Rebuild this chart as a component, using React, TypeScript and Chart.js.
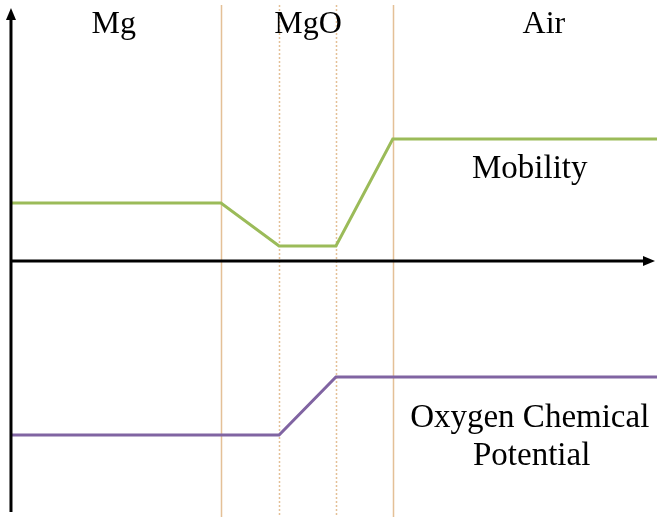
import React, { useEffect, useRef } from "react";
import { Chart, registerables } from "chart.js";

Chart.register(...registerables);

// Position across the sample (0 = vertical axis, 100 = right edge)
const mobilityX = [0, 32.5, 41.5, 50.3, 59.1, 100];
const mobilityY = [58, 58, 15, 15, 122, 122];
const oxygenX = [0, 41.5, 50.3, 100];
const oxygenY = [-174, -174, -116, -116];

const solidBoundaries = [32.5, 59.1];
const dottedBoundaries = [41.5, 50.3];

const regionLabels = ["Mg", "MgO", "Air"];
const regionLabelX = [15.9, 46, 82.5];
const regionLabelY = 228;

const X_MIN = -1.7;
const X_MAX = 100;
const Y_MIN = -256;
const Y_MAX = 261;

const GREEN = "#9BBB59";
const PURPLE = "#8064A2";
const TAN = "rgba(225,185,140,0.9)";
const FONT_TOP = "32px 'Liberation Serif', 'Times New Roman', serif";
const FONT = "33px 'Liberation Serif', 'Times New Roman', serif";

const decorPlugin = {
  id: "decor",
  beforeDatasetsDraw(chart: any) {
    const { ctx, scales } = chart;
    const xs = scales.x;
    const ys = scales.y;
    const top = ys.getPixelForValue(Y_MAX) + 5;
    const bottom = ys.getPixelForValue(Y_MIN);
    ctx.save();
    ctx.strokeStyle = TAN;
    ctx.lineWidth = 1.5;
    solidBoundaries.forEach((v) => {
      const px = Math.round(xs.getPixelForValue(v)) + 0.5;
      ctx.setLineDash([]);
      ctx.beginPath();
      ctx.moveTo(px, top);
      ctx.lineTo(px, bottom);
      ctx.stroke();
    });
    dottedBoundaries.forEach((v) => {
      const px = Math.round(xs.getPixelForValue(v)) + 0.5;
      ctx.setLineDash([2, 2]);
      ctx.beginPath();
      ctx.moveTo(px, top);
      ctx.lineTo(px, bottom);
      ctx.stroke();
    });
    ctx.restore();
  },
  afterDatasetsDraw(chart: any) {
    const { ctx, scales } = chart;
    const xs = scales.x;
    const ys = scales.y;
    const x0 = xs.getPixelForValue(0);
    const y0 = ys.getPixelForValue(0);
    const topY = ys.getPixelForValue(Y_MAX) + 8;
    const bottomY = ys.getPixelForValue(Y_MIN) - 5;
    const rightX = xs.getPixelForValue(X_MAX) - 2;
    ctx.save();
    ctx.strokeStyle = "#000";
    ctx.fillStyle = "#000";
    ctx.lineWidth = 3;
    // vertical axis
    ctx.beginPath();
    ctx.moveTo(x0, bottomY);
    ctx.lineTo(x0, topY + 10);
    ctx.stroke();
    ctx.beginPath();
    ctx.moveTo(x0, topY);
    ctx.lineTo(x0 - 5, topY + 12);
    ctx.lineTo(x0 + 5, topY + 12);
    ctx.closePath();
    ctx.fill();
    // horizontal axis
    ctx.beginPath();
    ctx.moveTo(x0, y0);
    ctx.lineTo(rightX - 10, y0);
    ctx.stroke();
    ctx.beginPath();
    ctx.moveTo(rightX, y0);
    ctx.lineTo(rightX - 12, y0 - 5);
    ctx.lineTo(rightX - 12, y0 + 5);
    ctx.closePath();
    ctx.fill();

    // texts
    ctx.textAlign = "center";
    ctx.textBaseline = "alphabetic";
    ctx.fillStyle = "#000";
    ctx.font = FONT_TOP;
    regionLabels.forEach((t, i) => {
      ctx.fillText(t, xs.getPixelForValue(regionLabelX[i]), ys.getPixelForValue(regionLabelY));
    });
    ctx.font = FONT;
    ctx.fillText("Mobility", xs.getPixelForValue(80.3), ys.getPixelForValue(83));
    ctx.fillText("Oxygen Chemical", xs.getPixelForValue(80.3), ys.getPixelForValue(-166));
    ctx.fillText("Potential", xs.getPixelForValue(80.6), ys.getPixelForValue(-204));
    ctx.restore();
  },
};

export default function App() {
  const ref = useRef<HTMLCanvasElement>(null);
  useEffect(() => {
    if (!ref.current) return;
    const chart = new Chart(ref.current, {
      type: "line",
      data: {
        datasets: [
          {
            label: "Mobility",
            data: mobilityX.map((x, i) => ({ x, y: mobilityY[i] })),
            borderColor: GREEN,
            borderWidth: 3,
            pointRadius: 0,
            tension: 0,
          },
          {
            label: "Oxygen Chemical Potential",
            data: oxygenX.map((x, i) => ({ x, y: oxygenY[i] })),
            borderColor: PURPLE,
            borderWidth: 3,
            pointRadius: 0,
            tension: 0,
          },
        ],
      },
      options: {
        animation: false,
        responsive: false,
        layout: { padding: 0 },
        plugins: { legend: { display: false }, tooltip: { enabled: false } },
        scales: {
          x: { type: "linear", min: X_MIN, max: X_MAX, display: false },
          y: { type: "linear", min: Y_MIN, max: Y_MAX, display: false },
        },
      },
      plugins: [decorPlugin],
    });
    return () => chart.destroy();
  }, []);
  return (
    <div style={{ position: "absolute", left: 0, top: 0, width: 657, height: 517, background: "#fff" }}>
      <canvas ref={ref} width={657} height={517} />
    </div>
  );
}
